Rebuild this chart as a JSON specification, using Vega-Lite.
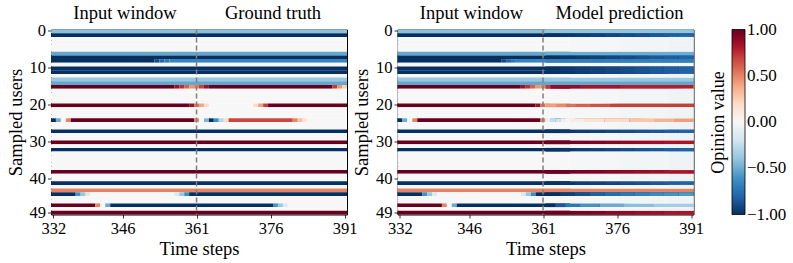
{
  "$schema": "https://vega.github.io/schema/vega-lite/v6.json",
  "padding": {"left": 5, "top": 3.5, "right": 5, "bottom": 3},
  "spacing": 50.5,
  "bounds": "flush",
  "datasets": {
    "cells": [
      {"p":"b","u":0,"x0":331.5,"x1":391.5,"v":-0.42},
      {"p":"b","u":1,"x0":331.5,"x1":391.5,"v":-1},
      {"p":"b","u":2,"x0":331.5,"x1":391.5,"v":0},
      {"p":"b","u":3,"x0":331.5,"x1":391.5,"v":0},
      {"p":"b","u":4,"x0":331.5,"x1":391.5,"v":0},
      {"p":"b","u":5,"x0":331.5,"x1":391.5,"v":0},
      {"p":"b","u":6,"x0":331.5,"x1":391.5,"v":-0.52},
      {"p":"b","u":7,"x0":331.5,"x1":391.5,"v":-1},
      {"p":"b","u":8,"x0":331.5,"x1":352.5,"v":-1},
      {"p":"b","u":8,"x0":352.5,"x1":353.5,"v":-0.9},
      {"p":"b","u":8,"x0":353.5,"x1":354.5,"v":-0.8},
      {"p":"b","u":8,"x0":354.5,"x1":355.5,"v":-0.72},
      {"p":"b","u":8,"x0":355.5,"x1":391.5,"v":-0.66},
      {"p":"b","u":9,"x0":331.5,"x1":391.5,"v":0},
      {"p":"b","u":10,"x0":331.5,"x1":391.5,"v":-1},
      {"p":"b","u":11,"x0":331.5,"x1":391.5,"v":-1},
      {"p":"b","u":12,"x0":331.5,"x1":391.5,"v":0},
      {"p":"b","u":13,"x0":331.5,"x1":391.5,"v":-0.38},
      {"p":"b","u":14,"x0":331.5,"x1":391.5,"v":-0.52},
      {"p":"b","u":15,"x0":331.5,"x1":356.5,"v":1},
      {"p":"b","u":15,"x0":356.5,"x1":357.5,"v":0.85},
      {"p":"b","u":15,"x0":357.5,"x1":358.5,"v":0.75},
      {"p":"b","u":15,"x0":358.5,"x1":359.5,"v":0.6},
      {"p":"b","u":15,"x0":359.5,"x1":360.5,"v":0.45},
      {"p":"b","u":15,"x0":360.5,"x1":361.5,"v":0.5},
      {"p":"b","u":15,"x0":361.5,"x1":362.5,"v":0.7},
      {"p":"b","u":15,"x0":362.5,"x1":363.5,"v":0.85},
      {"p":"b","u":15,"x0":363.5,"x1":388.5,"v":1},
      {"p":"b","u":15,"x0":388.5,"x1":389.5,"v":0.72},
      {"p":"b","u":15,"x0":389.5,"x1":390.5,"v":0.45},
      {"p":"b","u":15,"x0":390.5,"x1":391.5,"v":0.25},
      {"p":"b","u":16,"x0":331.5,"x1":391.5,"v":0},
      {"p":"b","u":17,"x0":331.5,"x1":391.5,"v":0},
      {"p":"b","u":18,"x0":331.5,"x1":391.5,"v":0},
      {"p":"b","u":19,"x0":331.5,"x1":391.5,"v":0},
      {"p":"b","u":20,"x0":331.5,"x1":359.5,"v":1},
      {"p":"b","u":20,"x0":359.5,"x1":360.5,"v":0.85},
      {"p":"b","u":20,"x0":360.5,"x1":361.5,"v":0.55},
      {"p":"b","u":20,"x0":361.5,"x1":362.5,"v":0.4},
      {"p":"b","u":20,"x0":362.5,"x1":363.5,"v":0.2},
      {"p":"b","u":20,"x0":363.5,"x1":372.5,"v":0},
      {"p":"b","u":20,"x0":372.5,"x1":373.5,"v":0.2},
      {"p":"b","u":20,"x0":373.5,"x1":374.5,"v":0.42},
      {"p":"b","u":20,"x0":374.5,"x1":375.5,"v":0.7},
      {"p":"b","u":20,"x0":375.5,"x1":391.5,"v":1},
      {"p":"b","u":21,"x0":331.5,"x1":391.5,"v":0},
      {"p":"b","u":22,"x0":331.5,"x1":391.5,"v":0},
      {"p":"b","u":23,"x0":331.5,"x1":391.5,"v":0},
      {"p":"b","u":24,"x0":331.5,"x1":332.5,"v":-1},
      {"p":"b","u":24,"x0":332.5,"x1":333.5,"v":-0.5},
      {"p":"b","u":24,"x0":333.5,"x1":334.5,"v":0},
      {"p":"b","u":24,"x0":334.5,"x1":335.5,"v":0.5},
      {"p":"b","u":24,"x0":335.5,"x1":360.5,"v":1},
      {"p":"b","u":24,"x0":360.5,"x1":361.5,"v":0.5},
      {"p":"b","u":24,"x0":361.5,"x1":362.5,"v":0},
      {"p":"b","u":24,"x0":362.5,"x1":363.5,"v":-0.45},
      {"p":"b","u":24,"x0":363.5,"x1":364.5,"v":-1},
      {"p":"b","u":24,"x0":364.5,"x1":365.5,"v":-0.62},
      {"p":"b","u":24,"x0":365.5,"x1":366.5,"v":-0.3},
      {"p":"b","u":24,"x0":366.5,"x1":367.5,"v":0.18},
      {"p":"b","u":24,"x0":367.5,"x1":380.5,"v":0.68},
      {"p":"b","u":24,"x0":380.5,"x1":381.5,"v":0.5},
      {"p":"b","u":24,"x0":381.5,"x1":382.5,"v":0.3},
      {"p":"b","u":24,"x0":382.5,"x1":383.5,"v":0.15},
      {"p":"b","u":24,"x0":383.5,"x1":391.5,"v":0},
      {"p":"b","u":25,"x0":331.5,"x1":391.5,"v":0},
      {"p":"b","u":26,"x0":331.5,"x1":391.5,"v":0},
      {"p":"b","u":27,"x0":331.5,"x1":391.5,"v":-1},
      {"p":"b","u":28,"x0":331.5,"x1":391.5,"v":0},
      {"p":"b","u":29,"x0":331.5,"x1":391.5,"v":0},
      {"p":"b","u":30,"x0":331.5,"x1":391.5,"v":1},
      {"p":"b","u":31,"x0":331.5,"x1":391.5,"v":0},
      {"p":"b","u":32,"x0":331.5,"x1":391.5,"v":-1},
      {"p":"b","u":33,"x0":331.5,"x1":391.5,"v":0},
      {"p":"b","u":34,"x0":331.5,"x1":391.5,"v":0},
      {"p":"b","u":35,"x0":331.5,"x1":391.5,"v":0},
      {"p":"b","u":36,"x0":331.5,"x1":391.5,"v":0},
      {"p":"b","u":37,"x0":331.5,"x1":391.5,"v":0},
      {"p":"b","u":38,"x0":331.5,"x1":391.5,"v":1},
      {"p":"b","u":39,"x0":331.5,"x1":391.5,"v":0},
      {"p":"b","u":40,"x0":331.5,"x1":391.5,"v":0},
      {"p":"b","u":41,"x0":331.5,"x1":391.5,"v":-1},
      {"p":"b","u":42,"x0":331.5,"x1":391.5,"v":0},
      {"p":"b","u":43,"x0":331.5,"x1":391.5,"v":0.5},
      {"p":"b","u":44,"x0":331.5,"x1":336.5,"v":-1},
      {"p":"b","u":44,"x0":336.5,"x1":337.5,"v":-0.6},
      {"p":"b","u":44,"x0":337.5,"x1":338.5,"v":-0.38},
      {"p":"b","u":44,"x0":338.5,"x1":339.5,"v":-0.15},
      {"p":"b","u":44,"x0":339.5,"x1":356.5,"v":0},
      {"p":"b","u":44,"x0":356.5,"x1":357.5,"v":-0.15},
      {"p":"b","u":44,"x0":357.5,"x1":358.5,"v":-0.38},
      {"p":"b","u":44,"x0":358.5,"x1":359.5,"v":-0.62},
      {"p":"b","u":44,"x0":359.5,"x1":391.5,"v":-1},
      {"p":"b","u":45,"x0":331.5,"x1":391.5,"v":0},
      {"p":"b","u":46,"x0":331.5,"x1":391.5,"v":0},
      {"p":"b","u":47,"x0":331.5,"x1":340.5,"v":1},
      {"p":"b","u":47,"x0":340.5,"x1":341.5,"v":0.5},
      {"p":"b","u":47,"x0":341.5,"x1":342.5,"v":0},
      {"p":"b","u":47,"x0":342.5,"x1":343.5,"v":-0.5},
      {"p":"b","u":47,"x0":343.5,"x1":376.5,"v":-1},
      {"p":"b","u":47,"x0":376.5,"x1":377.5,"v":-0.6},
      {"p":"b","u":47,"x0":377.5,"x1":378.5,"v":-0.38},
      {"p":"b","u":47,"x0":378.5,"x1":379.5,"v":-0.15},
      {"p":"b","u":47,"x0":379.5,"x1":391.5,"v":0},
      {"p":"b","u":48,"x0":331.5,"x1":391.5,"v":0},
      {"p":"b","u":49,"x0":331.5,"x1":391.5,"v":1},

      {"p":"r","u":0,"x0":361.5,"x1":391.5,"v":-0.4},
      {"p":"r","u":6,"x0":361.5,"x1":391.5,"v":-0.5},
      {"p":"r","u":8,"x0":361.5,"x1":391.5,"v":-0.68},

      {"p":"r","u":1,"x0":361.5,"x1":364.5,"v":-0.99},{"p":"r","u":1,"x0":364.5,"x1":367.5,"v":-0.97},{"p":"r","u":1,"x0":367.5,"x1":370.5,"v":-0.95},{"p":"r","u":1,"x0":370.5,"x1":373.5,"v":-0.93},{"p":"r","u":1,"x0":373.5,"x1":376.5,"v":-0.91},{"p":"r","u":1,"x0":376.5,"x1":379.5,"v":-0.89},{"p":"r","u":1,"x0":379.5,"x1":382.5,"v":-0.87},{"p":"r","u":1,"x0":382.5,"x1":385.5,"v":-0.85},{"p":"r","u":1,"x0":385.5,"x1":388.5,"v":-0.83},{"p":"r","u":1,"x0":388.5,"x1":391.5,"v":-0.81},
      {"p":"r","u":7,"x0":361.5,"x1":364.5,"v":-0.99},{"p":"r","u":7,"x0":364.5,"x1":367.5,"v":-0.97},{"p":"r","u":7,"x0":367.5,"x1":370.5,"v":-0.95},{"p":"r","u":7,"x0":370.5,"x1":373.5,"v":-0.93},{"p":"r","u":7,"x0":373.5,"x1":376.5,"v":-0.91},{"p":"r","u":7,"x0":376.5,"x1":379.5,"v":-0.89},{"p":"r","u":7,"x0":379.5,"x1":382.5,"v":-0.87},{"p":"r","u":7,"x0":382.5,"x1":385.5,"v":-0.85},{"p":"r","u":7,"x0":385.5,"x1":388.5,"v":-0.83},{"p":"r","u":7,"x0":388.5,"x1":391.5,"v":-0.81},
      {"p":"r","u":10,"x0":361.5,"x1":364.5,"v":-0.99},{"p":"r","u":10,"x0":364.5,"x1":367.5,"v":-0.97},{"p":"r","u":10,"x0":367.5,"x1":370.5,"v":-0.95},{"p":"r","u":10,"x0":370.5,"x1":373.5,"v":-0.93},{"p":"r","u":10,"x0":373.5,"x1":376.5,"v":-0.91},{"p":"r","u":10,"x0":376.5,"x1":379.5,"v":-0.89},{"p":"r","u":10,"x0":379.5,"x1":382.5,"v":-0.87},{"p":"r","u":10,"x0":382.5,"x1":385.5,"v":-0.85},{"p":"r","u":10,"x0":385.5,"x1":388.5,"v":-0.83},{"p":"r","u":10,"x0":388.5,"x1":391.5,"v":-0.81},
      {"p":"r","u":11,"x0":361.5,"x1":364.5,"v":-0.99},{"p":"r","u":11,"x0":364.5,"x1":367.5,"v":-0.97},{"p":"r","u":11,"x0":367.5,"x1":370.5,"v":-0.95},{"p":"r","u":11,"x0":370.5,"x1":373.5,"v":-0.93},{"p":"r","u":11,"x0":373.5,"x1":376.5,"v":-0.91},{"p":"r","u":11,"x0":376.5,"x1":379.5,"v":-0.89},{"p":"r","u":11,"x0":379.5,"x1":382.5,"v":-0.87},{"p":"r","u":11,"x0":382.5,"x1":385.5,"v":-0.85},{"p":"r","u":11,"x0":385.5,"x1":388.5,"v":-0.83},{"p":"r","u":11,"x0":388.5,"x1":391.5,"v":-0.81},
      {"p":"r","u":27,"x0":361.5,"x1":364.5,"v":-0.99},{"p":"r","u":27,"x0":364.5,"x1":367.5,"v":-0.97},{"p":"r","u":27,"x0":367.5,"x1":370.5,"v":-0.95},{"p":"r","u":27,"x0":370.5,"x1":373.5,"v":-0.93},{"p":"r","u":27,"x0":373.5,"x1":376.5,"v":-0.91},{"p":"r","u":27,"x0":376.5,"x1":379.5,"v":-0.89},{"p":"r","u":27,"x0":379.5,"x1":382.5,"v":-0.87},{"p":"r","u":27,"x0":382.5,"x1":385.5,"v":-0.85},{"p":"r","u":27,"x0":385.5,"x1":388.5,"v":-0.83},{"p":"r","u":27,"x0":388.5,"x1":391.5,"v":-0.81},
      {"p":"r","u":32,"x0":361.5,"x1":364.5,"v":-0.99},{"p":"r","u":32,"x0":364.5,"x1":367.5,"v":-0.97},{"p":"r","u":32,"x0":367.5,"x1":370.5,"v":-0.95},{"p":"r","u":32,"x0":370.5,"x1":373.5,"v":-0.93},{"p":"r","u":32,"x0":373.5,"x1":376.5,"v":-0.91},{"p":"r","u":32,"x0":376.5,"x1":379.5,"v":-0.89},{"p":"r","u":32,"x0":379.5,"x1":382.5,"v":-0.87},{"p":"r","u":32,"x0":382.5,"x1":385.5,"v":-0.85},{"p":"r","u":32,"x0":385.5,"x1":388.5,"v":-0.83},{"p":"r","u":32,"x0":388.5,"x1":391.5,"v":-0.81},
      {"p":"r","u":41,"x0":361.5,"x1":364.5,"v":-0.99},{"p":"r","u":41,"x0":364.5,"x1":367.5,"v":-0.97},{"p":"r","u":41,"x0":367.5,"x1":370.5,"v":-0.95},{"p":"r","u":41,"x0":370.5,"x1":373.5,"v":-0.93},{"p":"r","u":41,"x0":373.5,"x1":376.5,"v":-0.91},{"p":"r","u":41,"x0":376.5,"x1":379.5,"v":-0.89},{"p":"r","u":41,"x0":379.5,"x1":382.5,"v":-0.87},{"p":"r","u":41,"x0":382.5,"x1":385.5,"v":-0.85},{"p":"r","u":41,"x0":385.5,"x1":388.5,"v":-0.83},{"p":"r","u":41,"x0":388.5,"x1":391.5,"v":-0.81},

      {"p":"r","u":30,"x0":361.5,"x1":364.5,"v":0.99},{"p":"r","u":30,"x0":364.5,"x1":367.5,"v":0.97},{"p":"r","u":30,"x0":367.5,"x1":370.5,"v":0.95},{"p":"r","u":30,"x0":370.5,"x1":373.5,"v":0.93},{"p":"r","u":30,"x0":373.5,"x1":376.5,"v":0.91},{"p":"r","u":30,"x0":376.5,"x1":379.5,"v":0.89},{"p":"r","u":30,"x0":379.5,"x1":382.5,"v":0.87},{"p":"r","u":30,"x0":382.5,"x1":385.5,"v":0.85},{"p":"r","u":30,"x0":385.5,"x1":388.5,"v":0.83},{"p":"r","u":30,"x0":388.5,"x1":391.5,"v":0.82},
      {"p":"r","u":38,"x0":361.5,"x1":364.5,"v":0.99},{"p":"r","u":38,"x0":364.5,"x1":367.5,"v":0.97},{"p":"r","u":38,"x0":367.5,"x1":370.5,"v":0.95},{"p":"r","u":38,"x0":370.5,"x1":373.5,"v":0.93},{"p":"r","u":38,"x0":373.5,"x1":376.5,"v":0.91},{"p":"r","u":38,"x0":376.5,"x1":379.5,"v":0.89},{"p":"r","u":38,"x0":379.5,"x1":382.5,"v":0.87},{"p":"r","u":38,"x0":382.5,"x1":385.5,"v":0.85},{"p":"r","u":38,"x0":385.5,"x1":388.5,"v":0.83},{"p":"r","u":38,"x0":388.5,"x1":391.5,"v":0.82},
      {"p":"r","u":49,"x0":361.5,"x1":364.5,"v":0.99},{"p":"r","u":49,"x0":364.5,"x1":367.5,"v":0.97},{"p":"r","u":49,"x0":367.5,"x1":370.5,"v":0.95},{"p":"r","u":49,"x0":370.5,"x1":373.5,"v":0.93},{"p":"r","u":49,"x0":373.5,"x1":376.5,"v":0.91},{"p":"r","u":49,"x0":376.5,"x1":379.5,"v":0.89},{"p":"r","u":49,"x0":379.5,"x1":382.5,"v":0.87},{"p":"r","u":49,"x0":382.5,"x1":385.5,"v":0.85},{"p":"r","u":49,"x0":385.5,"x1":388.5,"v":0.83},{"p":"r","u":49,"x0":388.5,"x1":391.5,"v":0.82},

      {"p":"r","u":15,"x0":361.5,"x1":362.5,"v":0.72},
      {"p":"r","u":15,"x0":362.5,"x1":368.5,"v":0.88},
      {"p":"r","u":15,"x0":368.5,"x1":376.5,"v":0.83},
      {"p":"r","u":15,"x0":376.5,"x1":391.5,"v":0.79},
      {"p":"r","u":20,"x0":361.5,"x1":363.5,"v":0.42},
      {"p":"r","u":20,"x0":363.5,"x1":365.5,"v":0.48},
      {"p":"r","u":20,"x0":365.5,"x1":367.5,"v":0.55},
      {"p":"r","u":20,"x0":367.5,"x1":370.5,"v":0.6},
      {"p":"r","u":20,"x0":370.5,"x1":374.5,"v":0.65},
      {"p":"r","u":20,"x0":374.5,"x1":391.5,"v":0.7},
      {"p":"r","u":24,"x0":361.5,"x1":362.5,"v":-0.08},
      {"p":"r","u":24,"x0":362.5,"x1":363.5,"v":-0.25},
      {"p":"r","u":24,"x0":363.5,"x1":364.5,"v":-0.2},
      {"p":"r","u":24,"x0":364.5,"x1":365.5,"v":-0.08},
      {"p":"r","u":24,"x0":365.5,"x1":366.5,"v":0.02},
      {"p":"r","u":24,"x0":366.5,"x1":369.5,"v":0.08},
      {"p":"r","u":24,"x0":369.5,"x1":373.5,"v":0.14},
      {"p":"r","u":24,"x0":373.5,"x1":378.5,"v":0.2},
      {"p":"r","u":24,"x0":378.5,"x1":383.5,"v":0.28},
      {"p":"r","u":24,"x0":383.5,"x1":387.5,"v":0.35},
      {"p":"r","u":24,"x0":387.5,"x1":391.5,"v":0.42},
      {"p":"r","u":44,"x0":361.5,"x1":364.5,"v":-1},
      {"p":"r","u":44,"x0":364.5,"x1":367.5,"v":-0.94},
      {"p":"r","u":44,"x0":367.5,"x1":370.5,"v":-0.88},
      {"p":"r","u":44,"x0":370.5,"x1":373.5,"v":-0.82},
      {"p":"r","u":44,"x0":373.5,"x1":376.5,"v":-0.77},
      {"p":"r","u":44,"x0":376.5,"x1":379.5,"v":-0.72},
      {"p":"r","u":44,"x0":379.5,"x1":382.5,"v":-0.68},
      {"p":"r","u":44,"x0":382.5,"x1":385.5,"v":-0.64},
      {"p":"r","u":44,"x0":385.5,"x1":388.5,"v":-0.61},
      {"p":"r","u":44,"x0":388.5,"x1":391.5,"v":-0.58},
      {"p":"r","u":47,"x0":361.5,"x1":363.5,"v":-1},
      {"p":"r","u":47,"x0":363.5,"x1":365.5,"v":-0.85},
      {"p":"r","u":47,"x0":365.5,"x1":368.5,"v":-0.72},
      {"p":"r","u":47,"x0":368.5,"x1":372.5,"v":-0.6},
      {"p":"r","u":47,"x0":372.5,"x1":377.5,"v":-0.5},
      {"p":"r","u":47,"x0":377.5,"x1":383.5,"v":-0.42},
      {"p":"r","u":47,"x0":383.5,"x1":391.5,"v":-0.35},

      {"p":"r","u":2,"x0":366.5,"x1":376.5,"v":-0.012},{"p":"r","u":2,"x0":376.5,"x1":386.5,"v":-0.025},{"p":"r","u":2,"x0":386.5,"x1":391.5,"v":-0.04},
      {"p":"r","u":3,"x0":366.5,"x1":376.5,"v":-0.012},{"p":"r","u":3,"x0":376.5,"x1":386.5,"v":-0.025},{"p":"r","u":3,"x0":386.5,"x1":391.5,"v":-0.04},
      {"p":"r","u":4,"x0":366.5,"x1":376.5,"v":-0.012},{"p":"r","u":4,"x0":376.5,"x1":386.5,"v":-0.025},{"p":"r","u":4,"x0":386.5,"x1":391.5,"v":-0.04},
      {"p":"r","u":5,"x0":366.5,"x1":376.5,"v":-0.012},{"p":"r","u":5,"x0":376.5,"x1":386.5,"v":-0.025},{"p":"r","u":5,"x0":386.5,"x1":391.5,"v":-0.04},
      {"p":"r","u":12,"x0":366.5,"x1":376.5,"v":-0.012},{"p":"r","u":12,"x0":376.5,"x1":386.5,"v":-0.025},{"p":"r","u":12,"x0":386.5,"x1":391.5,"v":-0.04},
      {"p":"r","u":16,"x0":366.5,"x1":376.5,"v":-0.012},{"p":"r","u":16,"x0":376.5,"x1":386.5,"v":-0.025},{"p":"r","u":16,"x0":386.5,"x1":391.5,"v":-0.04},
      {"p":"r","u":17,"x0":366.5,"x1":376.5,"v":-0.012},{"p":"r","u":17,"x0":376.5,"x1":386.5,"v":-0.025},{"p":"r","u":17,"x0":386.5,"x1":391.5,"v":-0.04},
      {"p":"r","u":18,"x0":366.5,"x1":376.5,"v":-0.012},{"p":"r","u":18,"x0":376.5,"x1":386.5,"v":-0.025},{"p":"r","u":18,"x0":386.5,"x1":391.5,"v":-0.04},
      {"p":"r","u":19,"x0":366.5,"x1":376.5,"v":-0.012},{"p":"r","u":19,"x0":376.5,"x1":386.5,"v":-0.025},{"p":"r","u":19,"x0":386.5,"x1":391.5,"v":-0.04},
      {"p":"r","u":21,"x0":366.5,"x1":376.5,"v":-0.012},{"p":"r","u":21,"x0":376.5,"x1":386.5,"v":-0.025},{"p":"r","u":21,"x0":386.5,"x1":391.5,"v":-0.04},
      {"p":"r","u":22,"x0":366.5,"x1":376.5,"v":-0.012},{"p":"r","u":22,"x0":376.5,"x1":386.5,"v":-0.025},{"p":"r","u":22,"x0":386.5,"x1":391.5,"v":-0.04},
      {"p":"r","u":23,"x0":366.5,"x1":376.5,"v":-0.012},{"p":"r","u":23,"x0":376.5,"x1":386.5,"v":-0.025},{"p":"r","u":23,"x0":386.5,"x1":391.5,"v":-0.04},
      {"p":"r","u":25,"x0":366.5,"x1":376.5,"v":-0.012},{"p":"r","u":25,"x0":376.5,"x1":386.5,"v":-0.025},{"p":"r","u":25,"x0":386.5,"x1":391.5,"v":-0.04},
      {"p":"r","u":26,"x0":366.5,"x1":376.5,"v":-0.012},{"p":"r","u":26,"x0":376.5,"x1":386.5,"v":-0.025},{"p":"r","u":26,"x0":386.5,"x1":391.5,"v":-0.04},
      {"p":"r","u":28,"x0":366.5,"x1":376.5,"v":-0.012},{"p":"r","u":28,"x0":376.5,"x1":386.5,"v":-0.025},{"p":"r","u":28,"x0":386.5,"x1":391.5,"v":-0.04},
      {"p":"r","u":29,"x0":366.5,"x1":376.5,"v":-0.012},{"p":"r","u":29,"x0":376.5,"x1":386.5,"v":-0.025},{"p":"r","u":29,"x0":386.5,"x1":391.5,"v":-0.04},
      {"p":"r","u":31,"x0":366.5,"x1":376.5,"v":-0.012},{"p":"r","u":31,"x0":376.5,"x1":386.5,"v":-0.025},{"p":"r","u":31,"x0":386.5,"x1":391.5,"v":-0.04},
      {"p":"r","u":33,"x0":366.5,"x1":376.5,"v":-0.012},{"p":"r","u":33,"x0":376.5,"x1":386.5,"v":-0.025},{"p":"r","u":33,"x0":386.5,"x1":391.5,"v":-0.04},
      {"p":"r","u":34,"x0":366.5,"x1":376.5,"v":-0.012},{"p":"r","u":34,"x0":376.5,"x1":386.5,"v":-0.025},{"p":"r","u":34,"x0":386.5,"x1":391.5,"v":-0.04},
      {"p":"r","u":35,"x0":366.5,"x1":376.5,"v":-0.012},{"p":"r","u":35,"x0":376.5,"x1":386.5,"v":-0.025},{"p":"r","u":35,"x0":386.5,"x1":391.5,"v":-0.04},
      {"p":"r","u":36,"x0":366.5,"x1":376.5,"v":-0.012},{"p":"r","u":36,"x0":376.5,"x1":386.5,"v":-0.025},{"p":"r","u":36,"x0":386.5,"x1":391.5,"v":-0.04},
      {"p":"r","u":37,"x0":366.5,"x1":376.5,"v":-0.012},{"p":"r","u":37,"x0":376.5,"x1":386.5,"v":-0.025},{"p":"r","u":37,"x0":386.5,"x1":391.5,"v":-0.04},
      {"p":"r","u":39,"x0":366.5,"x1":376.5,"v":-0.012},{"p":"r","u":39,"x0":376.5,"x1":386.5,"v":-0.025},{"p":"r","u":39,"x0":386.5,"x1":391.5,"v":-0.04},
      {"p":"r","u":40,"x0":366.5,"x1":376.5,"v":-0.012},{"p":"r","u":40,"x0":376.5,"x1":386.5,"v":-0.025},{"p":"r","u":40,"x0":386.5,"x1":391.5,"v":-0.04},
      {"p":"r","u":42,"x0":366.5,"x1":376.5,"v":-0.012},{"p":"r","u":42,"x0":376.5,"x1":386.5,"v":-0.025},{"p":"r","u":42,"x0":386.5,"x1":391.5,"v":-0.04},
      {"p":"r","u":45,"x0":366.5,"x1":376.5,"v":-0.012},{"p":"r","u":45,"x0":376.5,"x1":386.5,"v":-0.025},{"p":"r","u":45,"x0":386.5,"x1":391.5,"v":-0.04},
      {"p":"r","u":46,"x0":366.5,"x1":376.5,"v":-0.012},{"p":"r","u":46,"x0":376.5,"x1":386.5,"v":-0.025},{"p":"r","u":46,"x0":386.5,"x1":391.5,"v":-0.04},
      {"p":"r","u":48,"x0":366.5,"x1":376.5,"v":-0.012},{"p":"r","u":48,"x0":376.5,"x1":386.5,"v":-0.025},{"p":"r","u":48,"x0":386.5,"x1":391.5,"v":-0.04}
    ],
    "labelsL": [{"lab":"Input window","x":346.5},{"lab":"Ground truth","x":376.5}],
    "labelsR": [{"lab":"Input window","x":346.5},{"lab":"Model prediction","x":376.5}]
  },
  "hconcat": [
    {
      "width": 296,
      "height": 185,
      "layer": [
        {
          "data": {"name": "cells"},
          "transform": [{"filter": "datum.p == 'b'"}],
          "mark": {"type": "rect"},
          "encoding": {
            "x": {"field": "x0", "type": "quantitative", "scale": {"domain": [331.5, 391.5], "nice": false, "zero": false},
                  "axis": {"values": [332, 346, 361, 376, 391], "title": "Time steps"}},
            "x2": {"field": "x1"},
            "y": {"field": "u", "type": "ordinal",
                  "scale": {"domain": [0,1,2,3,4,5,6,7,8,9,10,11,12,13,14,15,16,17,18,19,20,21,22,23,24,25,26,27,28,29,30,31,32,33,34,35,36,37,38,39,40,41,42,43,44,45,46,47,48,49], "paddingInner": 0, "paddingOuter": 0},
                  "axis": {"values": [0, 10, 20, 30, 40, 49], "title": "Sampled users", "labelAngle": 0}},
            "color": {"field": "v", "type": "quantitative",
                      "scale": {"type": "linear", "domain": [-1,-0.8,-0.6,-0.4,-0.2,0,0.2,0.4,0.6,0.8,1],
                                "range": ["#053061","#2166ac","#4393c3","#92c5de","#d1e5f0","#f7f7f7","#fddbc7","#f4a582","#d6604d","#b2182b","#67001f"]},
                      "title": "Opinion value",
                      "legend": {"format": ".2f", "values": [-1, -0.5, 0, 0.5, 1], "titleOrient": "left", "titleAngle": 270,
                                 "titleBaseline": "top", "titleAnchor": "middle", "titlePadding": 3, "offset": 6,
                                 "labelBaseline": "middle",
                                 "encode": {"labels": {"update": {"baseline": {"value": "middle"}}}}}}
          }
        },
        {
          "data": {"values": [{}]},
          "mark": {"type": "rule", "color": "#808080", "strokeWidth": 1.5, "strokeDash": [5, 3]},
          "encoding": {"x": {"datum": 361}}
        },
        {
          "data": {"name": "labelsL"},
          "mark": {"type": "text", "fontSize": 18.5, "baseline": "alphabetic", "align": "center", "dy": -10.5, "color": "#000"},
          "encoding": {
            "x": {"field": "x", "type": "quantitative"},
            "y": {"datum": 0, "type": "ordinal", "bandPosition": 0},
            "text": {"field": "lab"}
          }
        }
      ]
    },
    {
      "width": 296,
      "height": 185,
      "layer": [
        {
          "data": {"name": "cells"},
          "mark": {"type": "rect"},
          "encoding": {
            "x": {"field": "x0", "type": "quantitative", "scale": {"domain": [331.5, 391.5], "nice": false, "zero": false},
                  "axis": {"values": [332, 346, 361, 376, 391], "title": "Time steps"}},
            "x2": {"field": "x1"},
            "y": {"field": "u", "type": "ordinal",
                  "scale": {"domain": [0,1,2,3,4,5,6,7,8,9,10,11,12,13,14,15,16,17,18,19,20,21,22,23,24,25,26,27,28,29,30,31,32,33,34,35,36,37,38,39,40,41,42,43,44,45,46,47,48,49], "paddingInner": 0, "paddingOuter": 0},
                  "axis": {"values": [0, 10, 20, 30, 40, 49], "title": "Sampled users", "labelAngle": 0}},
            "color": {"field": "v", "type": "quantitative",
                      "scale": {"type": "linear", "domain": [-1,-0.8,-0.6,-0.4,-0.2,0,0.2,0.4,0.6,0.8,1],
                                "range": ["#053061","#2166ac","#4393c3","#92c5de","#d1e5f0","#f7f7f7","#fddbc7","#f4a582","#d6604d","#b2182b","#67001f"]},
                      "title": "Opinion value",
                      "legend": {"format": ".2f", "values": [-1, -0.5, 0, 0.5, 1], "titleOrient": "left", "titleAngle": 270,
                                 "titleBaseline": "top", "titleAnchor": "middle", "titlePadding": 3, "offset": 6,
                                 "labelBaseline": "middle",
                                 "encode": {"labels": {"update": {"baseline": {"value": "middle"}}}}}}
          }
        },
        {
          "data": {"values": [{}]},
          "mark": {"type": "rule", "color": "#808080", "strokeWidth": 1.5, "strokeDash": [5, 3]},
          "encoding": {"x": {"datum": 361}}
        },
        {
          "data": {"name": "labelsR"},
          "mark": {"type": "text", "fontSize": 18.5, "baseline": "alphabetic", "align": "center", "dy": -10.5, "color": "#000"},
          "encoding": {
            "x": {"field": "x", "type": "quantitative"},
            "y": {"datum": 0, "type": "ordinal", "bandPosition": 0},
            "text": {"field": "lab"}
          }
        }
      ]
    }
  ],
  "resolve": {"scale": {"color": "shared"}},
  "config": {
    "font": "Liberation Serif",
    "view": {"stroke": "#000", "strokeWidth": 1},
    "axis": {
      "labelFont": "Liberation Serif", "titleFont": "Liberation Serif",
      "labelFontSize": 16.5, "titleFontSize": 18.5, "titleFontWeight": "normal",
      "labelColor": "#000", "titleColor": "#000", "tickColor": "#000",
      "domain": false, "grid": false, "tickSize": 3.5, "tickWidth": 0.8, "labelPadding": 2,
      "labelFlush": false, "labelOverlap": false
    },
    "axisX": {"titlePadding": 3},
    "axisY": {"titlePadding": 4},
    "legend": {
      "orient": "right", "direction": "vertical",
      "gradientLength": 185, "gradientThickness": 13,
      "gradientStrokeColor": "#000", "gradientStrokeWidth": 0.8,
      "titleFont": "Liberation Serif", "titleFontSize": 18, "titleFontWeight": "normal", "titleColor": "#000",
      "labelFont": "Liberation Serif", "labelFontSize": 17, "labelColor": "#000", "labelOffset": 4,
      "labelOverlap": false
    }
  }
}
